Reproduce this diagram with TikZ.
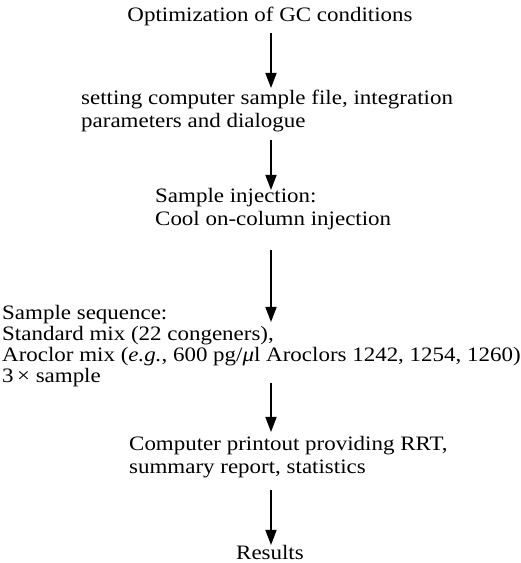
\documentclass[tikz,border=0pt]{standalone}
\usepackage{fontspec}
\setmainfont{Liberation Serif}[FakeStretch=1.12]
\usetikzlibrary{arrows.meta}

\tikzset{
  stage/.style={inner sep=0pt, align=left, anchor=base west, font=\fontsize{20.5}{23.5}\selectfont},
  flow/.style={line width=1.6pt, -{Triangle[length=15pt,width=11pt]}},
}

\begin{document}
\begin{tikzpicture}[x=1pt,y=1pt]
\useasboundingbox (0,0) rectangle (521,563);
\coordinate (spine) at (271,0);

% base of a stacked node is its last line
\node[stage, anchor=base] (optim) at (270,541) {Optimization of GC conditions};
\node[stage] (setup) at (81,435) {setting computer sample file, integration\\parameters and dialogue};
\node[stage] (inject) at (155,337) {Sample injection:\\Cool on-column injection};
\node[stage, font=\fontsize{20.5}{21}\selectfont] (seq) at (2,180) {Sample sequence:\\Standard mix (22 congeners),\\Aroclor mix (\textit{e.g.}, 600 pg/\textit{μ}l Aroclors 1242, 1254, 1260)\\3\,× sample};
\node[stage] (printout) at (129,89) {Computer printout providing RRT,\\summary report, statistics};
\node[stage, anchor=base] (res) at (270,4) {Results};

\draw[flow, shorten <=11pt, shorten >=40pt] (optim.base -| spine) -- (setup.base -| spine);
\draw[flow, shorten <=12pt, shorten >=36pt] (setup.base -| spine) -- (inject.base -| spine);
\draw[flow, shorten <=24pt, shorten >=61pt] (inject.base -| spine) -- (seq.base -| spine);
\draw[flow, shorten >=42pt] (seq.base -| spine) -- (printout.base -| spine);
\draw[flow, shorten <=16pt, shorten >=14pt] (printout.base -| spine) -- (res.base -| spine);
\end{tikzpicture}
\end{document}
